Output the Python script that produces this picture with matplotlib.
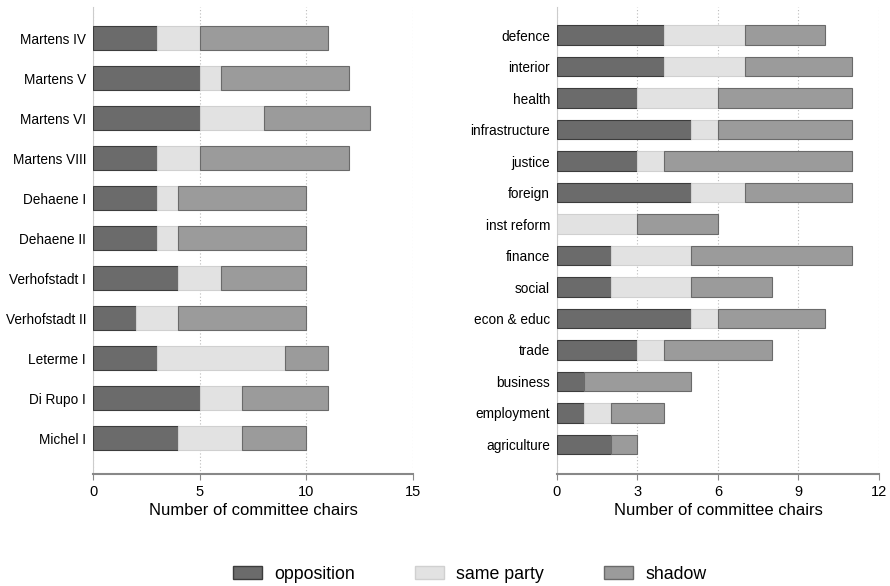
import numpy as np
import matplotlib
matplotlib.use("Agg")
import matplotlib.pyplot as plt
from matplotlib.patches import Patch

plt.rcParams['font.family'] = ['Liberation Sans', 'DejaVu Sans']

# left panel: governments
governments = ['Martens IV', 'Martens V', 'Martens VI', 'Martens VIII', 'Dehaene I',
               'Dehaene II', 'Verhofstadt I', 'Verhofstadt II', 'Leterme I',
               'Di Rupo I', 'Michel I']
gov_opposition = [3, 5, 5, 3, 3, 3, 4, 2, 3, 5, 4]
gov_same = [2, 1, 3, 2, 1, 1, 2, 2, 6, 2, 3]
gov_shadow = [6, 6, 5, 7, 6, 6, 4, 6, 2, 4, 3]

# right panel: committees
committees = ['defence', 'interior', 'health', 'infrastructure', 'justice', 'foreign',
              'inst reform', 'finance', 'social', 'econ & educ', 'trade', 'business',
              'employment', 'agriculture']
com_opposition = [4, 4, 3, 5, 3, 5, 0, 2, 2, 5, 3, 1, 1, 2]
com_same = [3, 3, 3, 1, 1, 2, 3, 3, 3, 1, 1, 0, 1, 0]
com_shadow = [3, 4, 5, 5, 7, 4, 3, 6, 3, 4, 4, 4, 2, 1]

labels = ['opposition', 'same party', 'shadow']
colors = ['#6b6b6b', '#e2e2e2', '#9b9b9b']
edges = ['#3c3c3c', '#d0d0d0', '#6a6a6a']

fig = plt.figure(figsize=(8.9, 5.86), dpi=100)
ax1 = fig.add_axes([0.1045, 0.191, 0.3596, 0.797])
ax2 = fig.add_axes([0.6258, 0.191, 0.3618, 0.797])


def stacked(ax, names, series, xmax, ticks, ylim, bar_h):
    y = np.arange(len(names))
    left = np.zeros(len(names))
    for vals, c, e in zip(series, colors, edges):
        vals = np.array(vals, dtype=float)
        ax.barh(y, vals, left=left, height=bar_h, color=c, edgecolor=e, linewidth=0.8, zorder=3)
        left += vals
    ax.set_yticks(y)
    ax.set_yticklabels(names, fontsize=9.8)
    ax.set_ylim(*ylim)
    ax.set_xlim(0, xmax)
    ax.set_xticks(ticks)
    ax.tick_params(axis='x', labelsize=10.5, length=4, color='#888888', direction='out', pad=4)
    ax.tick_params(axis='y', length=0, pad=5)
    ax.xaxis.grid(True, linestyle=(0, (1, 2)), color='#bbbbbb', linewidth=0.8, zorder=0)
    for s in ['top', 'right']:
        ax.spines[s].set_visible(False)
    ax.spines['left'].set_color('#cccccc')
    ax.spines['bottom'].set_color('#888888')
    ax.spines['bottom'].set_linewidth(1.5)
    ax.set_xlabel('Number of committee chairs', fontsize=12, labelpad=3)


stacked(ax1, governments, [gov_opposition, gov_same, gov_shadow], 15, [0, 5, 10, 15],
        (10.9, -0.775), 0.6)
stacked(ax2, committees, [com_opposition, com_same, com_shadow], 12, [0, 3, 6, 9, 12],
        (13.94, -0.89), 0.63)

handles = [Patch(facecolor=c, edgecolor=e, linewidth=1) for c, e in zip(colors, edges)]
fig.legend(handles, labels, loc='center', bbox_to_anchor=(0.528, 0.02), ncol=3,
           frameon=False, fontsize=12.8, handlelength=1.6, handleheight=0.75,
           columnspacing=3.4, handletextpad=0.7, borderpad=0)

fig.savefig('out.png', dpi=100)
